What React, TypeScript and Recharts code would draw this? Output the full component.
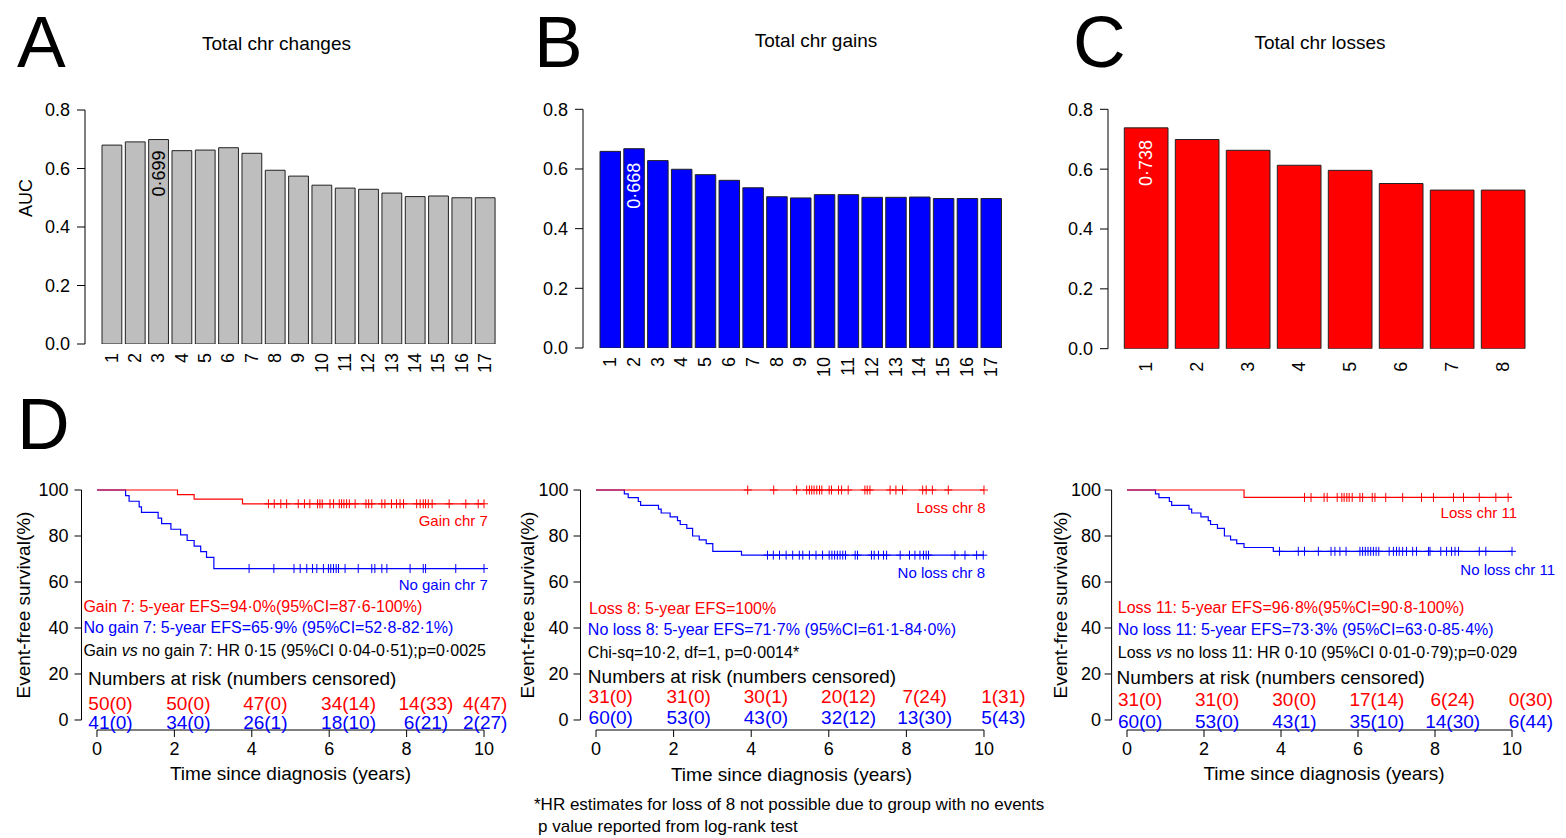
import React from 'react';
import {
  BarChart, Bar, XAxis, YAxis, LabelList, ComposedChart, Line, Scatter,
  ReferenceLine, ReferenceDot,
} from 'recharts';

const FONT = '"Liberation Sans", Arial, Helvetica, sans-serif';
const RED = '#ff0000';
const BLUE = '#0000ff';

// ---------- Panels A-C: AUC bars ----------
const chrAB = ['1', '2', '3', '4', '5', '6', '7', '8', '9', '10', '11', '12', '13', '14', '15', '16', '17'];
const aucA = [0.680, 0.691, 0.699, 0.661, 0.663, 0.671, 0.652, 0.594, 0.574, 0.543, 0.533, 0.529, 0.516, 0.504, 0.506, 0.500, 0.500];
const aucB = [0.659, 0.668, 0.628, 0.599, 0.581, 0.562, 0.537, 0.507, 0.503, 0.514, 0.514, 0.505, 0.505, 0.506, 0.501, 0.501, 0.501];
const chrC = ['1', '2', '3', '4', '5', '6', '7', '8'];
const aucC = [0.738, 0.699, 0.663, 0.613, 0.596, 0.552, 0.530, 0.530];
const aucTicks = [0, 0.2, 0.4, 0.6, 0.8];

// ---------- Panel D: Kaplan-Meier ----------
const kmX = [0, 2, 4, 6, 8, 10];
const kmY = [0, 20, 40, 60, 80, 100];

const d1RedTime = [0, 2.08, 2.51, 3.76, 10];
const d1RedSurv = [100, 98, 96, 94, 94];
const d1RedCens = [4.43, 4.58, 4.75, 4.90, 5.20, 5.36, 5.50, 5.70, 5.76, 5.82, 6.02, 6.11, 6.26, 6.32, 6.38, 6.45, 6.52, 6.67, 6.95, 7.02, 7.10, 7.36, 7.44, 7.61, 7.74, 7.83, 7.92, 8.26, 8.35, 8.43, 8.49, 8.56, 8.66, 9.10, 9.53, 9.85, 10.0];
const d1BlueTime = [0, 0.74, 0.83, 1.09, 1.15, 1.58, 1.67, 1.91, 2.16, 2.33, 2.51, 2.68, 2.83, 3.02, 10];
const d1BlueSurv = [100, 97.56, 95.12, 92.68, 90.24, 87.80, 85.37, 82.93, 80.49, 78.05, 75.61, 73.17, 70.73, 65.85, 65.85];
const d1BlueCens = [3.93, 4.57, 5.09, 5.25, 5.42, 5.57, 5.68, 5.85, 5.98, 6.04, 6.11, 6.18, 6.24, 6.41, 6.75, 7.10, 7.18, 7.36, 7.49, 8.09, 8.43, 8.49, 9.27, 10.0];

const d2RedTime = [0, 10];
const d2RedSurv = [100, 100];
const d2RedCens = [3.91, 4.58, 5.17, 5.43, 5.50, 5.56, 5.62, 5.69, 5.76, 5.82, 6.01, 6.07, 6.25, 6.33, 6.50, 6.93, 6.99, 7.06, 7.58, 7.73, 7.90, 8.42, 8.51, 8.67, 9.08, 10.0];
const d2BlueTime = [0, 0.73, 0.83, 1.09, 1.15, 1.61, 1.68, 1.91, 2.10, 2.17, 2.34, 2.49, 2.66, 2.84, 3.01, 3.75, 10];
const d2BlueSurv = [100, 98.33, 96.67, 95, 93.33, 91.67, 90, 88.33, 86.67, 85, 83.33, 80, 78.33, 76.67, 73.33, 71.67, 71.67];
const d2BlueCens = [4.42, 4.57, 4.73, 4.90, 5.07, 5.24, 5.33, 5.50, 5.67, 5.84, 6.01, 6.08, 6.15, 6.22, 6.29, 6.36, 6.43, 6.68, 6.74, 7.10, 7.17, 7.28, 7.41, 7.49, 7.84, 8.08, 8.22, 8.35, 8.44, 8.51, 8.57, 9.25, 9.51, 9.81, 9.98];

const d3RedTime = [0, 3.04, 10];
const d3RedSurv = [100, 96.77, 96.77];
const d3RedCens = [4.61, 4.78, 5.12, 5.20, 5.46, 5.58, 5.64, 5.71, 5.77, 5.85, 6.05, 6.12, 6.37, 6.44, 6.72, 7.16, 7.65, 7.96, 8.48, 8.74, 9.15, 9.58, 9.90];
const d3BlueTime = [0, 0.74, 0.83, 1.10, 1.16, 1.61, 1.68, 1.92, 2.11, 2.17, 2.35, 2.53, 2.69, 2.85, 3.04, 3.80, 10];
const d3BlueSurv = [100, 98.33, 96.67, 95, 93.33, 91.67, 90, 88.33, 86.67, 85, 83.33, 80, 78.33, 76.67, 75, 73.33, 73.33];
const d3BlueCens = [3.96, 4.45, 4.61, 4.97, 5.30, 5.40, 5.53, 5.69, 6.05, 6.12, 6.19, 6.26, 6.33, 6.40, 6.47, 6.54, 6.81, 6.92, 7.00, 7.07, 7.16, 7.26, 7.42, 7.52, 7.83, 7.87, 8.15, 8.30, 8.43, 8.52, 8.61, 9.15, 9.32, 10.0];

// numbers at risk (numbers censored)
const d1RiskX = [0.35, 2.36, 4.35, 6.5, 8.5, 10.03];
const d1RedRisk = [50, 50, 47, 34, 14, 4];
const d1RedCensN = [0, 0, 0, 14, 33, 47];
const d1BlueRisk = [41, 34, 26, 18, 6, 2];
const d1BlueCensN = [0, 0, 1, 10, 21, 27];

const d2RiskX = [0.38, 2.39, 4.38, 6.51, 8.47, 10.5];
const d2RedRisk = [31, 31, 30, 20, 7, 1];
const d2RedCensN = [0, 0, 1, 12, 24, 31];
const d2BlueRisk = [60, 53, 43, 32, 13, 5];
const d2BlueCensN = [0, 0, 0, 12, 30, 43];

const d3RiskX = [0.34, 2.34, 4.35, 6.49, 8.46, 10.49];
const d3RedRisk = [31, 31, 30, 17, 6, 0];
const d3RedCensN = [0, 0, 0, 14, 24, 30];
const d3BlueRisk = [60, 53, 43, 35, 14, 6];
const d3BlueCensN = [0, 0, 1, 10, 30, 44];

// ---------- helpers ----------
function survAt(times: number[], surv: number[], t: number) {
  let s = surv[0];
  for (let i = 0; i < times.length; i++) if (times[i] <= t) s = surv[i];
  return s;
}
const stepData = (times: number[], surv: number[]) => times.map((t, i) => ({ t, s: surv[i] }));
const censData = (times: number[], surv: number[], cens: number[]) =>
  cens.map((t) => ({ t, s: survAt(times, surv, t) }));

function RotTick(props: any) {
  const { x, y, payload } = props;
  return (
    <text x={x} y={y} transform={`rotate(-90 ${x} ${y})`} textAnchor="end" dominantBaseline="central"
      fontSize={18} fontFamily={FONT} fill="#000">{payload.value}</text>
  );
}

function makeBarLabel(color: string, offset: number) {
  return (props: any) => {
    const vb = props.viewBox || {};
    const x = vb.x ?? props.x;
    const y = vb.y ?? props.y;
    const w = vb.width ?? props.width;
    const v = props.value;
    if (!v) return null;
    const cx = x + w / 2;
    const ty = y + offset;
    return (
      <text x={cx} y={ty} transform={`rotate(-90 ${cx} ${ty})`} textAnchor="end" dominantBaseline="central"
        fontSize={18} fontFamily={FONT} fill={color}>{v}</text>
    );
  };
}

function BarPanel({ cfg }: { cfg: any }) {
  const data = cfg.cats.map((c: string, i: number) => ({
    c, v: cfg.values[i], lab: i === cfg.labelIdx ? cfg.labelText : '',
  }));
  return (
    <div style={{ position: 'absolute', left: cfg.left, top: 0 }}>
      <BarChart width={cfg.width} height={400} data={data}
        margin={{ top: cfg.top, right: cfg.right, bottom: cfg.bottom, left: 0 }}>
        <XAxis dataKey="c" type="category" axisLine={false} tickLine={false} tickSize={0}
          tickMargin={cfg.xTickMargin} interval={0} height={30}
          padding={{ left: cfg.padLeft, right: 0 }} tick={(p: any) => <RotTick {...p} />} />
        <YAxis type="number" domain={[0, 0.8]} ticks={aucTicks} width={cfg.yWidth} tickSize={8}
          tickMargin={7} stroke="#000" interval={0} allowDataOverflow
          tickFormatter={(v: number) => v.toFixed(1)}
          tick={{ fill: '#000', fontSize: 18, fontFamily: FONT }} />
        <Bar dataKey="v" fill={cfg.fill} stroke="#222" strokeWidth={1} barSize={cfg.barSize}
          isAnimationActive={false}>
          <LabelList dataKey="lab" content={makeBarLabel(cfg.labelColor, cfg.labelOffset)} />
        </Bar>
      </BarChart>
    </div>
  );
}

const plusShape = (color: string) => (p: any) => (
  <path d={`M${p.cx},${p.cy - 4.5}V${p.cy + 4.5}M${p.cx - 4},${p.cy}H${p.cx + 4}`}
    stroke={color} strokeWidth={1} fill="none" />
);

type Part = { t: string; i?: boolean };
type Txt = { x: number; y: number; parts: Part[]; color: string; size: number; anchor: 'start' | 'middle' | 'end' };

const textShape = (item: Txt) => (p: any) => (
  <text x={p.cx} y={p.cy} textAnchor={item.anchor} dominantBaseline="central" fill={item.color}
    fontSize={item.size} fontFamily={FONT}>
    {item.parts.map((pt, k) => (
      <tspan key={k} fontStyle={pt.i ? 'italic' : 'normal'}>{pt.t}</tspan>
    ))}
  </text>
);

function riskTexts(xs: number[], risk: number[], cens: number[], y: number, color: string): Txt[] {
  return xs.map((x, i) => ({
    x, y, parts: [{ t: `${risk[i]}(${cens[i]})` }], color, size: 19, anchor: 'middle' as const,
  }));
}

function KMPanel({ cfg }: { cfg: any }) {
  const tickStyle = { fill: '#000', fontSize: 18, fontFamily: FONT };
  return (
    <div style={{ position: 'absolute', left: cfg.left, top: 460 }}>
      <ComposedChart width={cfg.width} height={330}
        margin={{ top: 20, right: cfg.right, bottom: 20, left: cfg.mLeft }}>
        <XAxis type="number" dataKey="t" domain={[-0.4, 10.4]} ticks={kmX} interval={0} axisLine={false}
          tickSize={7} tickMargin={5} stroke="#000" height={40} allowDataOverflow tick={tickStyle} />
        <YAxis type="number" domain={[-4.35, 104.35]} ticks={kmY} interval={0} axisLine={false}
          tickSize={7} tickMargin={cfg.yTickMargin} stroke="#000" width={60} allowDataOverflow tick={tickStyle} />
        <ReferenceLine segment={[{ x: -0.4, y: 0 }, { x: -0.4, y: 100 }]} stroke="#000" strokeWidth={1} ifOverflow="visible" />
        <ReferenceLine segment={[{ x: 0, y: -4.35 }, { x: 10, y: -4.35 }]} stroke="#000" strokeWidth={1} ifOverflow="visible" />
        {cfg.series.map((s: any, i: number) => (
          <Line key={'l' + i} data={s.line} dataKey="s" type="stepAfter" stroke={s.color} strokeWidth={1.2}
            dot={false} activeDot={false} isAnimationActive={false} />
        ))}
        {cfg.series.map((s: any, i: number) => (
          <Scatter key={'c' + i} data={s.cens} dataKey="s" shape={plusShape(s.color)} isAnimationActive={false} />
        ))}
        {cfg.texts.map((tx: Txt, i: number) => (
          <ReferenceDot key={'t' + i} x={tx.x} y={tx.y} r={0} ifOverflow="visible" shape={textShape(tx)} />
        ))}
      </ComposedChart>
    </div>
  );
}

// ---------- configs ----------
const panelA = { left: 0, width: 520, yWidth: 85, padLeft: 15, right: 23.4, top: 110, bottom: 26, barSize: 19.8,
  fill: '#bebebe', xTickMargin: 9, cats: chrAB, values: aucA, labelIdx: 2, labelText: '0·699', labelColor: '#000', labelOffset: 11 };
const panelB = { left: 520, width: 500, yWidth: 63, padLeft: 15, right: 17.2, top: 109.3, bottom: 22, barSize: 20.5,
  fill: BLUE, xTickMargin: 9, cats: chrAB, values: aucB, labelIdx: 1, labelText: '0·668', labelColor: '#fff', labelOffset: 14 };
const panelC = { left: 1040, width: 526, yWidth: 68, padLeft: 12.3, right: 37.7, top: 109.3, bottom: 21.3, barSize: 43.7,
  fill: RED, xTickMargin: 13, cats: chrC, values: aucC, labelIdx: 0, labelText: '0·738', labelColor: '#fff', labelOffset: 12 };

const kmD1 = {
  left: 0, width: 520, mLeft: 21.5, right: 20.5, yTickMargin: 6,
  series: [
    { color: BLUE, line: stepData(d1BlueTime, d1BlueSurv), cens: censData(d1BlueTime, d1BlueSurv, d1BlueCens) },
    { color: RED, line: stepData(d1RedTime, d1RedSurv), cens: censData(d1RedTime, d1RedSurv, d1RedCens) },
  ],
  texts: [
    { x: 10.1, y: 86.96, parts: [{ t: 'Gain chr 7' }], color: RED, size: 15, anchor: 'end' },
    { x: 10.1, y: 59.1, parts: [{ t: 'No gain chr 7' }], color: BLUE, size: 15, anchor: 'end' },
    { x: -0.35, y: 49.7, parts: [{ t: 'Gain 7: 5-year EFS=94·0%(95%CI=87·6-100%)' }], color: RED, size: 16, anchor: 'start' },
    { x: -0.35, y: 40.4, parts: [{ t: 'No gain 7: 5-year EFS=65·9% (95%CI=52·8-82·1%)' }], color: BLUE, size: 16, anchor: 'start' },
    { x: -0.35, y: 30.4, parts: [{ t: 'Gain ' }, { t: 'vs', i: true }, { t: ' no gain 7: HR 0·15 (95%CI 0·04-0·51);p=0·0025' }], color: '#000', size: 16, anchor: 'start' },
    { x: -0.23, y: 18.4, parts: [{ t: 'Numbers at risk (numbers censored)' }], color: '#000', size: 19, anchor: 'start' },
    ...riskTexts(d1RiskX, d1RedRisk, d1RedCensN, 7.4, RED),
    ...riskTexts(d1RiskX, d1BlueRisk, d1BlueCensN, -0.74, BLUE),
  ] as Txt[],
};

const kmD2 = {
  left: 510, width: 530, mLeft: 10.5, right: 40.5, yTickMargin: 5,
  series: [
    { color: BLUE, line: stepData(d2BlueTime, d2BlueSurv), cens: censData(d2BlueTime, d2BlueSurv, d2BlueCens) },
    { color: RED, line: stepData(d2RedTime, d2RedSurv), cens: censData(d2RedTime, d2RedSurv, d2RedCens) },
  ],
  texts: [
    { x: 10.04, y: 92.7, parts: [{ t: 'Loss chr 8' }], color: RED, size: 15, anchor: 'end' },
    { x: 10.03, y: 64.5, parts: [{ t: 'No loss chr 8' }], color: BLUE, size: 15, anchor: 'end' },
    { x: -0.18, y: 48.6, parts: [{ t: 'Loss 8: 5-year EFS=100%' }], color: RED, size: 16, anchor: 'start' },
    { x: -0.21, y: 39.4, parts: [{ t: 'No loss 8: 5-year EFS=71·7% (95%CI=61·1-84·0%)' }], color: BLUE, size: 16, anchor: 'start' },
    { x: -0.21, y: 29.7, parts: [{ t: 'Chi-sq=10·2, df=1, p=0·0014*' }], color: '#000', size: 16, anchor: 'start' },
    { x: -0.21, y: 19.3, parts: [{ t: 'Numbers at risk (numbers censored)' }], color: '#000', size: 19, anchor: 'start' },
    ...riskTexts(d2RiskX, d2RedRisk, d2RedCensN, 10.4, RED),
    ...riskTexts(d2RiskX, d2BlueRisk, d2BlueCensN, 1.4, BLUE),
  ] as Txt[],
};

const kmD3 = {
  left: 1040, width: 526, mLeft: 11.6, right: 38.6, yTickMargin: 3.5,
  series: [
    { color: BLUE, line: stepData(d3BlueTime, d3BlueSurv), cens: censData(d3BlueTime, d3BlueSurv, d3BlueCens) },
    { color: RED, line: stepData(d3RedTime, d3RedSurv), cens: censData(d3RedTime, d3RedSurv, d3RedCens) },
  ],
  texts: [
    { x: 10.13, y: 90.6, parts: [{ t: 'Loss chr 11' }], color: RED, size: 15, anchor: 'end' },
    { x: 11.12, y: 65.7, parts: [{ t: 'No loss chr 11' }], color: BLUE, size: 15, anchor: 'end' },
    { x: -0.24, y: 49.3, parts: [{ t: 'Loss 11: 5-year EFS=96·8%(95%CI=90·8-100%)' }], color: RED, size: 16, anchor: 'start' },
    { x: -0.24, y: 39.4, parts: [{ t: 'No loss 11: 5-year EFS=73·3% (95%CI=63·0-85·4%)' }], color: BLUE, size: 16, anchor: 'start' },
    { x: -0.24, y: 29.4, parts: [{ t: 'Loss ' }, { t: 'vs', i: true }, { t: ' no loss 11: HR 0·10 (95%CI 0·01-0·79);p=0·029' }], color: '#000', size: 16, anchor: 'start' },
    { x: -0.27, y: 18.6, parts: [{ t: 'Numbers at risk (numbers censored)' }], color: '#000', size: 19, anchor: 'start' },
    ...riskTexts(d3RiskX, d3RedRisk, d3RedCensN, 9.0, RED),
    ...riskTexts(d3RiskX, d3BlueRisk, d3BlueCensN, -0.3, BLUE),
  ] as Txt[],
};

export default function App() {
  const t = { fontFamily: FONT, fill: '#000' };
  return (
    <div style={{ position: 'absolute', left: 0, top: 0, width: 1566, height: 838, background: '#fff', overflow: 'hidden' }}>
      <BarPanel cfg={panelA} />
      <BarPanel cfg={panelB} />
      <BarPanel cfg={panelC} />
      <KMPanel cfg={kmD1} />
      <KMPanel cfg={kmD2} />
      <KMPanel cfg={kmD3} />
      <svg width={1566} height={838} style={{ position: 'absolute', left: 0, top: 0, pointerEvents: 'none' }}>
        <text x={17} y={66.5} fontSize={73} {...t}>A</text>
        <text x={534} y={66.5} fontSize={73} {...t}>B</text>
        <text x={1073} y={66.5} fontSize={73} {...t}>C</text>
        <text x={17} y={449} fontSize={73} {...t}>D</text>
        <text x={276.5} y={50} fontSize={19} textAnchor="middle" {...t}>Total chr changes</text>
        <text x={816} y={47} fontSize={19} textAnchor="middle" {...t}>Total chr gains</text>
        <text x={1320} y={49} fontSize={19} textAnchor="middle" {...t}>Total chr losses</text>
        <text x={25.5} y={198} fontSize={18} textAnchor="middle" dominantBaseline="central"
          transform="rotate(-90 25.5 198)" {...t}>AUC</text>
        {[23.5, 527.5, 1060.5].map((x) => (
          <text key={'yl' + x} x={x} y={605} fontSize={19} textAnchor="middle" dominantBaseline="central"
            transform={`rotate(-90 ${x} 605)`} {...t}>Event-free survival(%)</text>
        ))}
        {[[290.5, 773], [791.5, 774], [1324, 773]].map(([x, y]) => (
          <text key={'xl' + x} x={x} y={y} fontSize={19} textAnchor="middle" dominantBaseline="central" {...t}>
            Time since diagnosis (years)
          </text>
        ))}
        <text x={534} y={804} fontSize={17} dominantBaseline="central" {...t}>
          *HR estimates for loss of 8 not possible due to group with no events
        </text>
        <text x={538} y={826} fontSize={17} dominantBaseline="central" {...t}>
          p value reported from log-rank test
        </text>
      </svg>
    </div>
  );
}
